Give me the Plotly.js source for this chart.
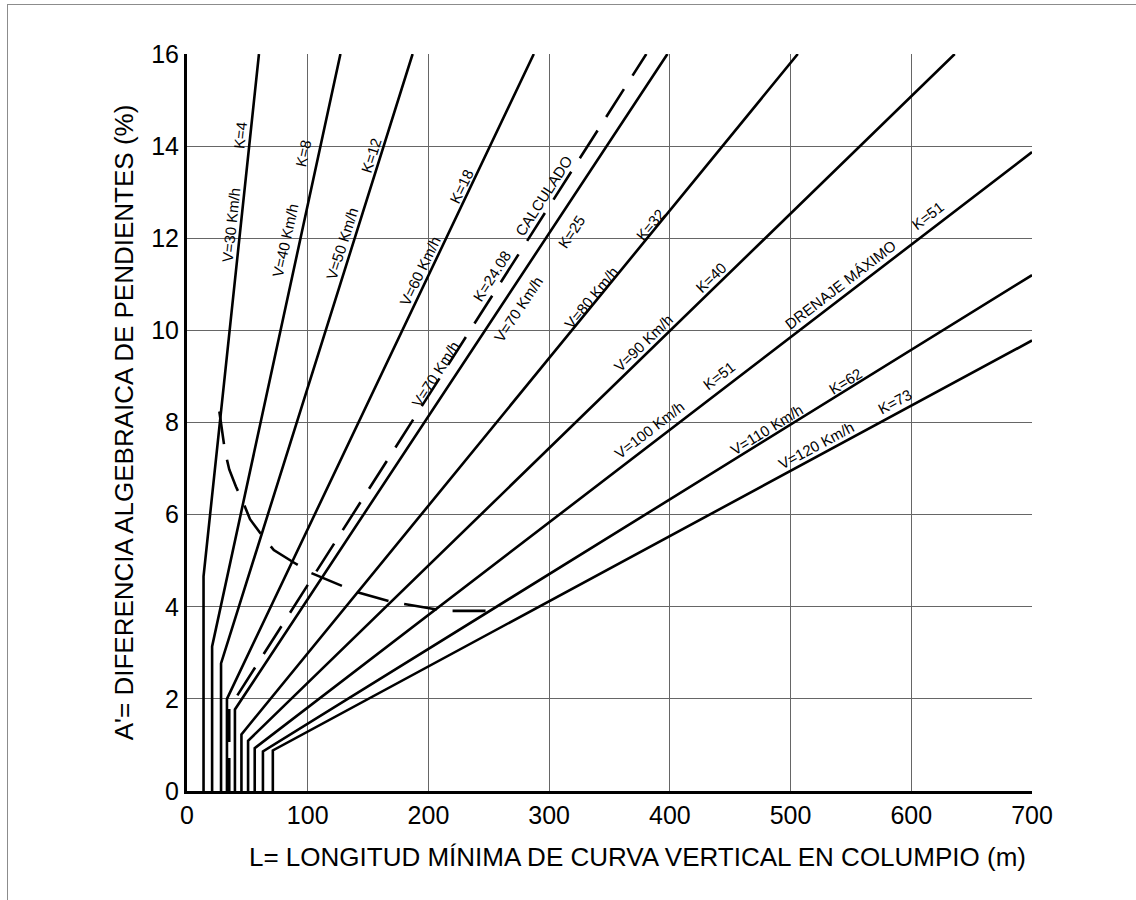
<!DOCTYPE html>
<html>
<head>
<meta charset="utf-8">
<script src="https://cdn.plot.ly/plotly-3.0.1.min.js"></script>
<style>
  html, body { margin: 0; padding: 0; background: #ffffff; }
  #wrap { position: relative; width: 1136px; height: 900px; }
  #chart { width: 1136px; height: 900px; }
  #frame { position: absolute; left: 7px; top: 4px; width: 1129px; height: 896px;
           border-left: 1px solid #8c8c8c; border-top: 1px solid #8c8c8c; pointer-events: none; }
</style>
</head>
<body>
<div id="wrap"><div id="chart"></div><div id="frame"></div></div>
<script>
// ---- Data ----
// Curves: vertical at minimum length up to the knee, then a straight line to the edge.
const speedLabels = ['V=30 Km/h', 'V=40 Km/h', 'V=50 Km/h', 'V=60 Km/h', 'V=70 Km/h', 'V=70 Km/h',
                     'V=80 Km/h', 'V=90 Km/h', 'V=100 Km/h', 'V=110 Km/h', 'V=120 Km/h'];
const kLabels = ['K=4', 'K=8', 'K=12', 'K=18', 'K=24.08', 'K=25', 'K=32', 'K=40', 'K=51', 'K=62', 'K=73'];
const minLength = [13.7, 20.8, 28.2, 33.1, 35.0, 39.7, 45.1, 50.6, 56.1, 62.9, 71.1];   // L at the vertical part (m)
const kneeA     = [4.66, 3.14, 2.77, 2.0, 1.8, 1.77, 1.23, 1.09, 0.93, 0.86, 0.88];    // A' where the vertical ends (%)
const endL      = [59.6, 127.1, 186.9, 287.3, 380.5, 398, 506, 636, 700, 700, 700];    // L at the chart edge
const endA      = [16, 16, 16, 16, 16, 16, 16, 16, 13.87, 11.2, 9.78];                  // A' at the chart edge
const calculated = [false, false, false, false, true, false, false, false, false, false, false];

// Dashed limit curve (lower left)
const limitL = [26.8, 31.5, 35.0, 40.5, 46.5, 52.2, 62.3, 71.9, 89.1, 103, 129.6, 141.9, 172, 185, 213.7, 250];
const limitA = [8.24, 7.37, 6.98, 6.61, 6.27, 5.9, 5.54, 5.23, 4.95, 4.73, 4.44, 4.31, 4.09, 4.04, 3.91, 3.91];

const xTicks = [0, 100, 200, 300, 400, 500, 600, 700];
const yTicks = [0, 2, 4, 6, 8, 10, 12, 14, 16];

// ---- Traces ----
const traces = [];
for (let i = 0; i < minLength.length; i++) {
  traces.push({
    type: 'scatter', mode: 'lines',
    x: [minLength[i], minLength[i], endL[i]],
    y: [0, kneeA[i], endA[i]],
    name: speedLabels[i] + ' ' + kLabels[i],
    line: { color: '#000000', width: 2.6, dash: calculated[i] ? '33px,16px' : 'solid' },
    hoverinfo: 'x+y+name', showlegend: false
  });
}
traces.push({
  type: 'scatter', mode: 'lines', x: limitL, y: limitA, name: 'límite',
  line: { color: '#000000', width: 2.6, dash: '33px,16px' }, showlegend: false
});

// ---- Label annotations (position in data units, angle along the line) ----
const F = 'Liberation Sans, Arial, Helvetica, sans-serif';
const labelSpecs = [
  ['K=4', 43.7, 14.24, -84], ['V=30 Km/h', 36.8, 12.29, -84],
  ['K=8', 95.9, 13.85, -77.6], ['V=40 Km/h', 81.4, 11.95, -77.6],
  ['K=12', 152.8, 13.79, -72.3], ['V=50 Km/h', 128.6, 11.88, -72.3],
  ['K=18', 227.4, 13.12, -64.2], ['V=60 Km/h', 193.5, 11.29, -64.2],
  ['K=24.08', 252.3, 11.17, -57.2], ['CALCULADO', 295.8, 12.92, -57.2], ['V=70 Km/h', 205.5, 9.05, -57.2],
  ['V=70 Km/h', 274.9, 10.47, -56.4], ['K=25', 318.8, 12.14, -56.4],
  ['K=32', 384.2, 12.29, -50.6], ['V=80 Km/h', 335.1, 10.71, -50.6],
  ['K=40', 434, 11.15, -43.9], ['V=90 Km/h', 378.5, 9.73, -43.9],
  ['DRENAJE MÁXIMO', 541.6, 10.99, -37.5], ['K=51', 613.8, 12.49, -37.5],
  ['K=51', 440.7, 9.03, -37.5], ['V=100 Km/h', 383.5, 7.84, -37.5],
  ['V=110 Km/h', 480.4, 7.84, -31.6], ['K=62', 545.1, 8.88, -31.6],
  ['V=120 Km/h', 521.1, 7.49, -28.2], ['K=73', 586.4, 8.46, -28.2]
];
const annotations = labelSpecs.map(s => ({
  text: s[0], x: s[1], y: s[2], xref: 'x', yref: 'y', textangle: s[3],
  showarrow: false, xanchor: 'center', yanchor: 'middle',
  font: { family: F, size: 15, color: '#000000' }
}));
annotations.push({
  text: 'L= LONGITUD MÍNIMA DE CURVA VERTICAL EN COLUMPIO (m)',
  xref: 'paper', yref: 'paper', x: 0.533, y: -0.0896, xanchor: 'center', yanchor: 'middle',
  showarrow: false, font: { family: F, size: 26, color: '#000000' }
});

const layout = {
  width: 1136, height: 900,
  margin: { l: 187, r: 104, t: 54, b: 109 },
  paper_bgcolor: '#ffffff', plot_bgcolor: '#ffffff',
  showlegend: false,
  font: { family: F, color: '#000000' },
  xaxis: {
    range: [0, 700], tickvals: xTicks, ticks: '',
    showgrid: true, gridcolor: '#666666', gridwidth: 1.2,
    showline: true, linecolor: '#000000', linewidth: 3,
    zeroline: false, tickfont: { family: F, size: 25, color: '#000000' }
  },
  yaxis: {
    range: [0, 16], tickvals: yTicks, ticks: '',
    showgrid: true, gridcolor: '#666666', gridwidth: 1.2,
    showline: true, linecolor: '#000000', linewidth: 3,
    zeroline: false, tickfont: { family: F, size: 25, color: '#000000' },
    title: { text: "A'= DIFERENCIA ALGEBRAICA DE PENDIENTES (%)", font: { family: F, size: 26, color: '#000000' }, standoff: 11 }
  },
  annotations: annotations
};

Plotly.newPlot('chart', traces, layout, { displayModeBar: false, staticPlot: true });
</script>
</body>
</html>
